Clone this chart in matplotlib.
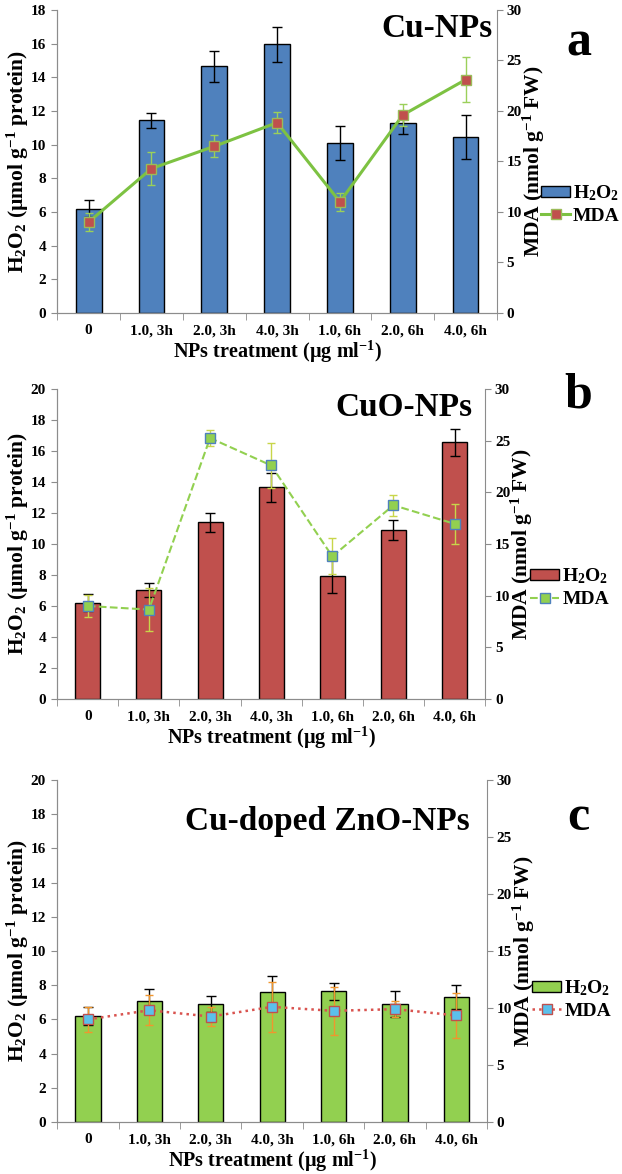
import matplotlib
matplotlib.use("Agg")
import matplotlib.pyplot as plt
from matplotlib.lines import Line2D
from matplotlib.patches import Patch
import numpy as np

plt.rcParams['font.family'] = ['Liberation Serif', 'DejaVu Serif']
plt.rcParams['font.weight'] = 'bold'
plt.rcParams['mathtext.fontset'] = 'custom'
plt.rcParams['mathtext.rm'] = 'Liberation Serif:bold'
plt.rcParams['mathtext.it'] = 'Liberation Serif:bold'
plt.rcParams['mathtext.bf'] = 'Liberation Serif:bold'

treatments = ['0', '1.0, 3h', '2.0, 3h', '4.0, 3h', '1.0, 6h', '2.0, 6h', '4.0, 6h']

# panel a: Cu-NPs
h2o2_a = [6.2, 11.45, 14.65, 15.95, 10.1, 11.3, 10.45]
h2o2_a_err = [0.5, 0.45, 0.9, 1.05, 1.0, 0.65, 1.3]
mda_a = [9.0, 14.3, 16.5, 18.85, 11.0, 19.6, 23.1]
mda_a_err = [0.9, 1.6, 1.1, 1.05, 0.9, 1.1, 2.2]

# panel b: CuO-NPs
h2o2_b = [6.2, 7.05, 11.4, 13.65, 7.95, 10.9, 16.55]
h2o2_b_err = [0.55, 0.45, 0.6, 0.95, 1.1, 0.65, 0.85]
mda_b = [9.0, 8.65, 25.25, 22.6, 13.8, 18.75, 16.95]
mda_b_err = [1.1, 2.1, 0.75, 2.2, 1.75, 1.0, 1.95]

# panel c: Cu-doped ZnO-NPs
h2o2_c = [6.2, 7.1, 6.9, 7.6, 7.65, 6.9, 7.3]
h2o2_c_err = [0.5, 0.7, 0.45, 0.95, 0.5, 0.75, 0.7]
mda_c = [9.0, 9.8, 9.25, 10.1, 9.75, 9.9, 9.35]
mda_c_err = [1.1, 1.3, 0.8, 2.2, 2.1, 0.7, 2.0]

gray = '#8c8c8c'

panels = [
    dict(h=h2o2_a, he=h2o2_a_err, m=mda_a, me=mda_a_err, ymax=18,
         bar='#4F81BD', line='#7DC242', ls='-', lw=2.2, mface='#C0504D',
         medge='#9BBB59', ecol='#9BD05A', title='Cu-NPs', letter='a',
         pos=[0.092, 0.7334, 0.707, 0.2581], title_x=0.99, title_y=0.99,
         letter_y=0.953, leg_x=1.1),
    dict(h=h2o2_b, he=h2o2_b_err, m=mda_b, me=mda_b_err, ymax=20,
         bar='#C0504D', line='#92D050', ls='--', lw=1.5, mface='#92D050',
         medge='#4F81BD', ecol='#C8D64A', title='CuO-NPs', letter='b',
         pos=[0.092, 0.4046, 0.688, 0.2641], title_x=0.97, title_y=0.99,
         letter_y=0.6525, leg_x=1.105),
    dict(h=h2o2_c, he=h2o2_c_err, m=mda_c, me=mda_c_err, ymax=20,
         bar='#92D050', line='#D9534F', ls=':', lw=1.8, mface='#5BC0EB',
         medge='#C0504D', ecol='#F0962E', title='Cu-doped ZnO-NPs', letter='c',
         pos=[0.092, 0.0443, 0.691, 0.2913], title_x=0.96, title_y=0.925,
         letter_y=0.293, leg_x=1.105),
]

fig = plt.figure(figsize=(6.22, 11.74), dpi=100)
x = np.arange(len(treatments))

for p in panels:
    ax = fig.add_axes(p['pos'])
    ax2 = ax.twinx()
    ax.bar(x, p['h'], width=0.41, color=p['bar'], edgecolor='black', linewidth=1.0,
           yerr=p['he'], error_kw=dict(ecolor='black', capsize=3.5, elinewidth=1.0),
           zorder=2)
    ax2.errorbar(x, p['m'], yerr=p['me'], color=p['line'], ls=p['ls'], lw=p['lw'],
                 marker='s', ms=7.5, mfc=p['mface'], mec=p['medge'], mew=1.0,
                 ecolor=p['ecol'], elinewidth=1.0, capsize=3, zorder=3)
    ax.set_zorder(1)
    ax2.set_zorder(2)
    ax.patch.set_visible(False)

    ax.set_xlim(-0.5, len(treatments) - 0.5)
    ax.set_ylim(0, p['ymax'])
    ax.set_yticks(np.arange(0, p['ymax'] + 1, 2))
    ax2.set_ylim(0, 30)
    ax2.set_yticks(np.arange(0, 31, 5))
    ax.set_xticks(x)
    ax.set_xticklabels(treatments, fontsize=11, fontweight='bold')
    ax.set_xticks(np.arange(-0.5, len(treatments)), minor=True)
    ax.tick_params(axis='x', which='major', length=0, pad=8)
    ax.tick_params(axis='x', which='minor', length=5, color=gray)
    ax.tick_params(axis='y', labelsize=11, length=4, color=gray, pad=4)
    ax2.tick_params(axis='y', labelsize=11, length=4, color=gray, pad=3)
    for t in ax.get_yticklabels() + ax2.get_yticklabels():
        t.set_fontweight('bold')

    for a_ in (ax, ax2):
        a_.spines['top'].set_visible(False)
        a_.spines['left'].set_color(gray)
        a_.spines['right'].set_color(gray)
        a_.spines['bottom'].set_color(gray)
    ax.spines['right'].set_visible(False)

    ax.set_xlabel('NPs treatment (µg ml$^{-1}$)', fontsize=14.5, fontweight='bold',
                  labelpad=1)
    ax.set_ylabel('H$_2$O$_2$ (µmol g$^{-1}$ protein)', fontsize=15.5,
                  fontweight='bold', labelpad=0)
    ax2.set_ylabel('MDA (nmol g$^{-1}$ FW)', fontsize=15.5, fontweight='bold',
                   labelpad=-1)

    ax.text(p['title_x'], p['title_y'], p['title'], transform=ax.transAxes,
            ha='right', va='top', fontsize=24, fontweight='bold', zorder=5)

    handles = [Patch(facecolor=p['bar'], edgecolor='black', linewidth=1.0),
               Line2D([], [], color=p['line'], ls=p['ls'], lw=p['lw'], marker='s',
                      ms=7.5, mfc=p['mface'], mec=p['medge'])]
    ax2.legend(handles, ['H$_2$O$_2$', 'MDA'], loc='center left',
               bbox_to_anchor=(p['leg_x'], 0.36), frameon=False,
               prop=dict(family='Liberation Serif', weight='bold', size=14),
               handlelength=1.5, handleheight=0.5, handletextpad=0.15,
               borderaxespad=0, borderpad=0, labelspacing=0.25)

    fig.text(0.93, p['letter_y'], p['letter'], ha='center', va='baseline',
             fontsize=36, fontweight='bold')

fig.savefig('out.png', dpi=100)
